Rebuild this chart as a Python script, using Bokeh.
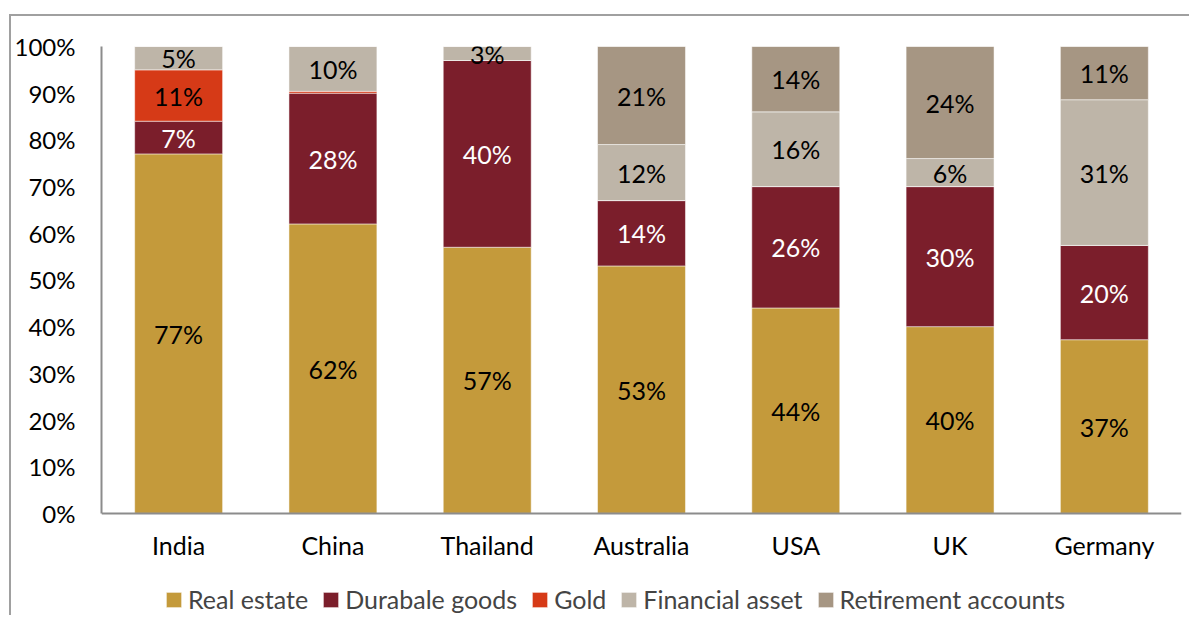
from bokeh.plotting import figure
from bokeh.models import (ColumnDataSource, Legend, LegendItem, FactorRange, Range1d,
                          FixedTicker, PrintfTickFormatter)
from bokeh.core.properties import value
from bokeh.embed import file_html
from bokeh.resources import INLINE

countries = ["India", "China", "Thailand", "Australia", "USA", "UK", "Germany"]
real_estate = [77, 62, 57, 53, 44, 40, 37.2]
durable_goods = [7, 28, 40, 14, 26, 30, 20.2]
gold = [11, 0.4, 0, 0, 0, 0, 0]
financial_asset = [5, 9.6, 3, 12, 16, 6, 31.2]
retirement_accounts = [0, 0, 0, 21, 14, 24, 11.4]
series_names = ["Real estate", "Durabale goods", "Gold", "Financial asset", "Retirement accounts"]
series_keys = ["real_estate", "durable_goods", "gold", "financial_asset", "retirement_accounts"]
colors = ["#C49A3B", "#7B1E2B", "#D63A17", "#BEB5A8", "#A69683"]
label_colors = ["black", "white", "black", "black", "black"]
y_ticks = [0, 10, 20, 30, 40, 50, 60, 70, 80, 90, 100]

FONT = "Lato"
FS = "25px"
FS_Y = "24px"

series = [real_estate, durable_goods, gold, financial_asset, retirement_accounts]
data = {"country": countries}
for k, s in zip(series_keys, series):
    data[k] = s
source = ColumnDataSource(data)

# frame spans from 100% down to the bottom of the canvas; the x axis sits at 0%
p = figure(x_range=FactorRange(*countries), y_range=Range1d(-22.3, 100),
           width=1180, height=601, output_backend="svg", toolbar_location=None,
           min_border_left=88, min_border_right=10, min_border_top=30, min_border_bottom=0)
# outer chart border: only its top and left edges fall inside the window
p.styles = {"margin-left": "9px", "margin-top": "14px",
            "border-left": "2px solid #a0a0a0", "border-top": "2px solid #a0a0a0"}

renderers = p.vbar_stack(series_keys, x="country", width=0.57, color=colors,
                         line_color="white", line_width=0.5, source=source)

# data labels
lx, ly, lt, lc = [], [], [], []
for i, c in enumerate(countries):
    base = 0
    for s, col in zip(series, label_colors):
        v = s[i]
        if v >= 1:
            lx.append(c)
            ly.append(base + v / 2)
            lt.append(f"{round(v)}%")
            lc.append(col)
        base += v
lsrc = ColumnDataSource(dict(x=lx, y=ly, t=lt, c=lc))
p.text(x="x", y="y", text="t", text_color="c", source=lsrc, text_align="center",
       text_baseline="middle", text_font=value(FONT), text_font_size=FS)

p.xgrid.grid_line_color = None
p.ygrid.grid_line_color = None
p.outline_line_color = None

p.yaxis.ticker = FixedTicker(ticks=y_ticks)
p.yaxis.bounds = (0, 100)
p.yaxis.formatter = PrintfTickFormatter(format="%d%%")
p.yaxis.minor_tick_line_color = None
p.yaxis.major_tick_line_color = None
p.yaxis.major_tick_out = 0
p.yaxis.major_tick_in = 0
p.yaxis.major_label_standoff = 26
p.yaxis.axis_line_color = "#8c8c8c"
p.yaxis.axis_line_width = 2
p.yaxis.major_label_text_font_size = FS_Y

p.xaxis.fixed_location = 0
p.xaxis.major_tick_line_color = None
p.xaxis.major_tick_out = 0
p.xaxis.major_tick_in = 0
p.xaxis.major_label_standoff = 17
p.xaxis.axis_line_color = "#8c8c8c"
p.xaxis.axis_line_width = 2
p.xaxis.major_label_text_font_size = FS

for ax in (p.xaxis, p.yaxis):
    ax.major_label_text_font = FONT
    ax.major_label_text_color = "black"

items = [LegendItem(label=n, renderers=[r]) for n, r in zip(series_names, renderers)]
legend = Legend(items=items, orientation="horizontal", location=(63, 3),
                glyph_width=19, glyph_height=19, label_standoff=5, spacing=13,
                padding=0, margin=0, border_line_color=None, background_fill_alpha=0,
                label_text_font=FONT, label_text_font_size=FS, label_height=15)
p.add_layout(legend, "center")

open("out.html", "w").write(file_html(p, INLINE))
